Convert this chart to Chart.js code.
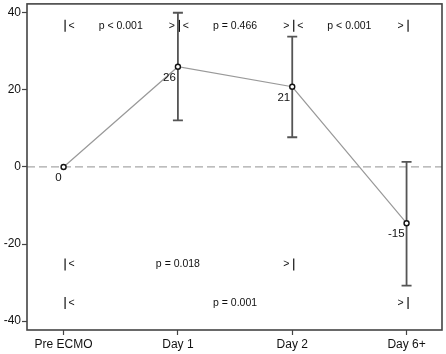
<!DOCTYPE html>
<html>
<head>
<meta charset="utf-8">
<script src="https://cdn.jsdelivr.net/npm/chart.js@4/dist/chart.umd.min.js"></script>
<style>
  html, body { margin: 0; padding: 0; background: #fff; }
  #wrap { width: 446px; height: 354px; }
</style>
</head>
<body>
<div id="wrap"><canvas id="chart" width="446" height="354"></canvas></div>
<script>
// data
const categories = ['Pre ECMO', 'Day 1', 'Day 2', 'Day 6+'];
const means = [0, 26, 20.8, -14.6];
const meanLabels = ['0', '26', '21', '-15'];
const upper = [null, 40, 33.8, 1.3];
const lower = [null, 12.1, 7.7, -30.8];
const yTicks = [-40, -20, 0, 20, 40];

// comparison brackets: from index, to index, row value, p text
const comparisons = [
    { from: 0, to: 1, y: 36.6, text: 'p < 0.001' },
    { from: 1, to: 2, y: 36.6, text: 'p = 0.466' },
    { from: 2, to: 3, y: 36.6, text: 'p < 0.001' },
    { from: 0, to: 2, y: -25.3, text: 'p = 0.018' },
    { from: 0, to: 3, y: -35.3, text: 'p = 0.001' }
];

const FONT = '"Liberation Sans", Arial, sans-serif';

const points = means.map((v, i) => ({ x: i, y: v }));

const extrasPlugin = {
    id: 'extras',
    beforeDatasetsDraw(chart) {
        const ctx = chart.ctx;
        const xs = chart.scales.x, ys = chart.scales.y;
        const area = chart.chartArea;
        // dashed zero line
        ctx.save();
        ctx.strokeStyle = '#a8a8a8';
        ctx.lineWidth = 1.3;
        ctx.setLineDash([8, 4]);
        ctx.beginPath();
        ctx.moveTo(area.left, ys.getPixelForValue(0));
        ctx.lineTo(area.right, ys.getPixelForValue(0));
        ctx.stroke();
        ctx.restore();
        // error bars
        ctx.save();
        ctx.strokeStyle = '#555';
        ctx.lineWidth = 1.8;
        for (let i = 0; i < categories.length; i++) {
            if (upper[i] === null) continue;
            const px = xs.getPixelForValue(i);
            const top = ys.getPixelForValue(upper[i]);
            const bot = ys.getPixelForValue(lower[i]);
            ctx.beginPath();
            ctx.moveTo(px, top); ctx.lineTo(px, bot);
            ctx.moveTo(px - 5, top); ctx.lineTo(px + 5, top);
            ctx.moveTo(px - 5, bot); ctx.lineTo(px + 5, bot);
            ctx.stroke();
        }
        ctx.restore();
    },
    afterDatasetsDraw(chart) {
        const ctx = chart.ctx;
        const xs = chart.scales.x, ys = chart.scales.y;
        const area = chart.chartArea;
        ctx.save();
        // mean labels
        ctx.fillStyle = '#111';
        ctx.font = '11.5px ' + FONT;
        ctx.textAlign = 'right';
        ctx.textBaseline = 'middle';
        for (let i = 0; i < means.length; i++) {
            const px = xs.getPixelForValue(i);
            const py = ys.getPixelForValue(means[i]);
            ctx.fillText(meanLabels[i], px - 2, py + 11);
        }
        // brackets and p values
        ctx.font = '10.5px ' + FONT;
        const marks = {};
        comparisons.forEach(c => {
            const py = ys.getPixelForValue(c.y);
            const x1 = xs.getPixelForValue(c.from);
            const x2 = xs.getPixelForValue(c.to);
            ctx.textAlign = 'center';
            ctx.fillText(c.text, (x1 + x2) / 2, py);
            const k1 = c.from + ':' + c.y, k2 = c.to + ':' + c.y;
            marks[k1] = marks[k1] || { x: x1, y: py, l: false, r: false };
            marks[k1].l = true;
            marks[k2] = marks[k2] || { x: x2, y: py, l: false, r: false };
            marks[k2].r = true;
        });
        Object.values(marks).forEach(m => {
            ctx.strokeStyle = '#111';
            ctx.lineWidth = 1.2;
            ctx.beginPath();
            ctx.moveTo(m.x + 1.5, m.y - 6);
            ctx.lineTo(m.x + 1.5, m.y + 6);
            ctx.stroke();
            ctx.textAlign = 'center';
            if (m.l) ctx.fillText('<', m.x + 8, m.y);
            if (m.r) ctx.fillText('>', m.x - 6, m.y);
        });
        // frame
        ctx.strokeStyle = '#444';
        ctx.lineWidth = 1.6;
        ctx.strokeRect(area.left, area.top, area.right - area.left, area.bottom - area.top);
        ctx.restore();
    }
};

new Chart(document.getElementById('chart'), {
    type: 'scatter',
    data: {
        datasets: [{
            data: points,
            showLine: true,
            borderColor: '#999',
            borderWidth: 1.2,
            pointRadius: 2.5,
            pointBorderWidth: 1.4,
            pointBorderColor: '#111',
            pointBackgroundColor: '#fff',
            pointHoverRadius: 2.5
        }]
    },
    options: {
        responsive: false,
        animation: false,
        layout: { padding: { top: 2, right: 4, left: 0, bottom: 0 } },
        plugins: { legend: { display: false }, tooltip: { enabled: false } },
        scales: {
            x: {
                type: 'linear',
                min: -0.32,
                max: 3.31,
                afterBuildTicks(scale) {
                    scale.ticks = categories.map((c, i) => ({ value: i }));
                },
                afterFit(scale) {
                    scale.height = 24;
                    scale.paddingLeft = 0;
                    scale.paddingRight = 0;
                },
                grid: { drawOnChartArea: false, tickLength: 5, color: '#444', tickWidth: 1.2 },
                border: { display: false },
                ticks: {
                    color: '#111',
                    font: { family: FONT, size: 12 },
                    padding: 2,
                    maxRotation: 0,
                    autoSkip: false,
                    callback: (v) => categories[v]
                }
            },
            y: {
                min: -42.3,
                max: 42.3,
                afterBuildTicks(scale) {
                    scale.ticks = yTicks.map(v => ({ value: v }));
                },
                afterFit(scale) {
                    scale.width = 27;
                    scale.paddingTop = 0;
                    scale.paddingBottom = 0;
                },
                grid: { drawOnChartArea: false, tickLength: 5, color: '#444', tickWidth: 1.2 },
                border: { display: false },
                ticks: {
                    color: '#111',
                    font: { family: FONT, size: 12 },
                    padding: 1
                }
            }
        }
    },
    plugins: [extrasPlugin]
});
</script>
</body>
</html>
